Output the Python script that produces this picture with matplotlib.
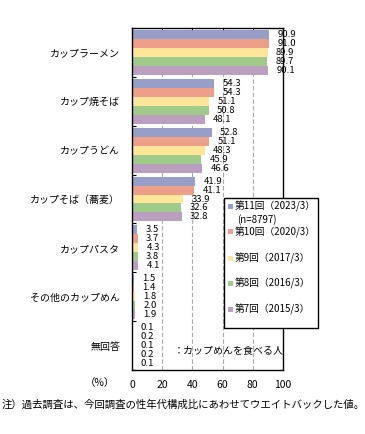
import matplotlib
matplotlib.use("Agg")
import matplotlib.pyplot as plt
from matplotlib.patches import Rectangle
import numpy as np

plt.rcParams['font.family'] = ['Noto Sans CJK JP', 'DejaVu Sans']

categories = ["カップラーメン", "カップ焼そば", "カップうどん", "カップそば（蕎麦）",
              "カップパスタ", "その他のカップめん", "無回答"]
series_names = ["第11回（2023/3）", "第10回（2020/3）", "第9回（2017/3）",
                "第8回（2016/3）", "第7回（2015/3）"]
s11 = [90.9, 54.3, 52.8, 41.9, 3.5, 1.5, 0.1]
s10 = [91.0, 54.3, 51.1, 41.1, 3.7, 1.4, 0.2]
s9 = [89.9, 51.1, 48.3, 33.9, 4.3, 1.8, 0.1]
s8 = [89.7, 50.8, 45.9, 32.6, 3.8, 2.0, 0.2]
s7 = [90.1, 48.1, 46.6, 32.8, 4.1, 1.9, 0.1]
series = [s11, s10, s9, s8, s7]
colors = ["#979FC9", "#EE9F8A", "#FFE699", "#9FCA89", "#BB9FC0"]
xticks = [0, 20, 40, 60, 80, 100]

W, H = 365, 434
fig = plt.figure(figsize=(W / 100, H / 100), dpi=100)

def fx(x):
    return x / W

def fy(y):
    return 1 - y / H

ax = fig.add_axes([fx(132), fy(370), fx(283) - fx(132), fy(28) - fy(370)])

n = len(series)
h = 0.184
y0 = np.arange(len(categories))
for i, (vals, c) in enumerate(zip(series, colors)):
    ypos = y0 + (i - (n - 1) / 2) * h
    ax.barh(ypos, vals, height=h, color=c, edgecolor='none', zorder=2)
    for yy, v in zip(ypos, vals):
        ax.text(v + 5.5, yy, f"{v:.1f}", va='center', ha='left', fontsize=6.8,
                zorder=3, clip_on=False)

ax.set_xlim(0, 100)
ax.set_ylim(len(categories) - 0.5, -0.5)
ax.set_xticks(xticks)
ax.set_xticklabels([str(t) for t in xticks], fontsize=7.5)
ax.tick_params(axis='x', bottom=False, top=True, direction='in', length=3.5,
               labelbottom=True, pad=7, width=0.8)
ax.set_yticks(y0)
ax.set_yticklabels(categories, fontsize=7.2)
ax.tick_params(axis='y', which='major', left=False, pad=5)
ax.set_yticks(np.arange(-0.5, len(categories) + 0.5, 1), minor=True)
ax.tick_params(axis='y', which='minor', left=True, direction='in', length=3, width=0.8)
ax.set_axisbelow(True)
ax.grid(axis='x', color='#A8A8A8', linestyle=(0, (4, 2)), linewidth=0.8, zorder=0)
for sp in ax.spines.values():
    sp.set_linewidth(1.0)
    sp.set_color('black')

fig.text(fx(100), fy(383), "（%）", fontsize=7.5, ha='center', va='center')
ax.text(fx(174), fy(350), "：カップめんを食べる人", transform=fig.transFigure,
        fontsize=7.2, ha='left', va='center', zorder=4)

# legend box
fig.patches.append(Rectangle((fx(224), fy(328)), fx(318) - fx(224), fy(198) - fy(328),
                             transform=fig.transFigure, facecolor='white',
                             edgecolor='black', linewidth=1.0, zorder=5))
leg_y = [206, 232, 258, 283, 309]
for name, c, yy in zip(series_names, colors, leg_y):
    fig.patches.append(Rectangle((fx(228), fy(yy + 2.5)), fx(5), 5 / H,
                                 transform=fig.transFigure, facecolor=c,
                                 edgecolor='none', zorder=6))
    fig.text(fx(235), fy(yy), name, fontsize=7.0, ha='left', va='center', zorder=7)
fig.text(fx(237), fy(219.5), "(n=8797)", fontsize=7.0, ha='left', va='center', zorder=7)

fig.text(fx(2), fy(405), "注）過去調査は、今回調査の性年代構成比にあわせてウエイトバックした値。",
         fontsize=7.5, ha='left', va='center')

fig.savefig("out.png", dpi=100)
